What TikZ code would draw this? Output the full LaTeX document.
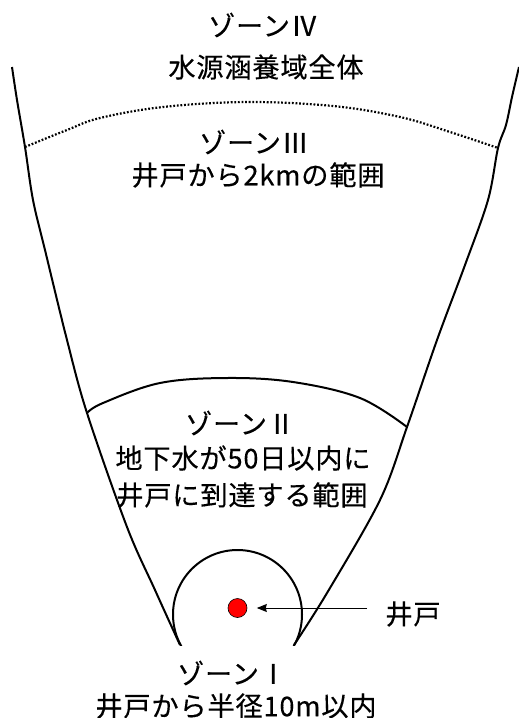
\documentclass[tikz,border=0pt]{standalone}
\usepackage{fontspec}
\setmainfont{Noto Sans CJK JP}[LetterSpace=3,FakeBold=0.3]
\usetikzlibrary{arrows.meta}
\begin{document}
\begin{tikzpicture}[x=1pt,y=-1pt,
  zoneline/.style={line width=2pt},
  lbl/.style={inner sep=0pt,font=\fontsize{27.2}{30}\selectfont},
  dotline/.style={line width=2.2pt,dash pattern=on 1.8pt off 1.8pt},
  pointer/.style={line width=1pt,-{Stealth[length=10pt,width=8pt,inset=1pt]},shorten >=9.5pt}]
\useasboundingbox (0,0) rectangle (519,718);
% outer boundary
\draw[zoneline] plot[smooth,tension=0.55] coordinates {(12,67) (17,100) (25,147) (33,200) (45,250) (67,340) (87,413) (127,527) (155,590) (180,645)};
\draw[zoneline] plot[smooth,tension=0.55] coordinates {(519,67) (512,97) (506,125) (498,148) (488,200) (465,265) (437,340) (407,427) (380,500) (327,593) (294,645)};
% zone III boundary (dotted)
\draw[dotline] plot[smooth,tension=0.6] coordinates {(25,147) (67,130) (100,118) (163,107) (247,102) (333,106) (400,117) (450,132) (498,148)};
% zone II boundary
\draw[zoneline] plot[smooth,tension=0.6] coordinates {(87,413) (103,403) (160,383) (227,378) (293,382) (360,398) (407,427)};
% zone I circle
\begin{scope}
\clip (0,0) rectangle (519,645);
\draw[zoneline] (237.5,614.5) circle[radius=64.5pt];
\end{scope}
% well
\node[circle,draw=black,line width=0.6pt,fill=red,minimum size=19pt,inner sep=0pt] (well) at (237.5,608) {};
\coordinate (tail) at (367,608);
\draw[pointer] (tail) -- (well);
\node[lbl] (welllbl) at (413,614) {井戸};
% labels
\node[lbl] (z4a) at (263,25) {ゾーンⅣ};
\node[lbl] (z4b) at (266,67) {水源涵養域全体};
\node[lbl] (z3a) at (254,142) {ゾーンⅢ};
\node[lbl] (z3b) at (258,175) {井戸から2kmの範囲};
\node[lbl] (z2a) at (240,423) {ゾーンⅡ};
\node[lbl] (z2b) at (243,458) {地下水が50日以内に};
\node[lbl] (z2c) at (242,495) {井戸に到達する範囲};
\node[lbl] (z1a) at (232,673) {ゾーンⅠ};
\node[lbl] (z1b) at (236,706) {井戸から半径10m以内};
\end{tikzpicture}
\end{document}
